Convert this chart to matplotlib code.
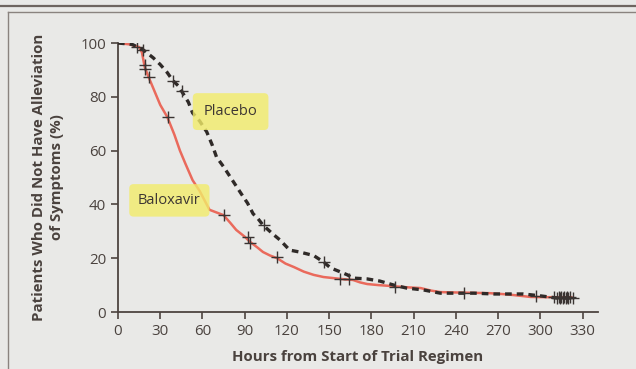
import matplotlib
matplotlib.use("Agg")
import matplotlib.pyplot as plt
from matplotlib.lines import Line2D

# ---- data ----
balox_t = [0, 8, 15, 17, 19, 22, 26, 30, 35, 40, 44, 48, 53, 58, 62, 65, 70, 75, 80, 84,
           90, 94, 99, 103, 108, 113, 119, 125, 132, 139, 146, 153, 160, 167, 172, 177,
           185, 193, 205, 215, 222, 229, 245, 264, 275, 281, 293, 305, 322]
balox_s = [100, 99.5, 98.5, 96.5, 91, 87, 82, 77, 72.5, 66, 60, 55, 49, 45, 41, 38, 37, 36,
           33, 30.5, 28, 26, 24, 22.3, 21, 20, 18, 16.7, 15, 13.8, 13, 12.6, 12.2, 11.9, 11,
           10.4, 10, 9.7, 9.2, 8.9, 8, 7.4, 7.2, 7, 6.6, 6.3, 5.6, 5.5, 5.5]

plac_t = [0, 10, 18, 25, 30, 35, 39, 43, 46, 50, 53, 58, 63, 67, 70, 75, 80, 85, 89, 92,
          96, 99, 103, 110, 115, 122, 129, 139, 146, 151, 158, 163, 167, 177, 186, 196,
          205, 217, 229, 253, 267, 288, 300, 312, 322]
plac_s = [100, 99.5, 97.4, 94.5, 92, 89, 86, 84, 81.4, 78, 74, 71, 67, 62, 57.6, 54, 50,
          46, 42.8, 40.5, 36.5, 35, 32.3, 29, 26.8, 23, 22.3, 21, 18.6, 16.4, 14.9, 13.8,
          12.6, 12.3, 11.5, 10, 8.9, 8.2, 7, 7, 6.7, 6.7, 6, 5.2, 5.2]

balox_cens_t = [13.5, 19, 19, 22, 35.5, 75, 92, 94, 113, 158, 164, 197,
                310, 313, 315, 317, 319, 321]
balox_cens_s = [98.5, 92, 90.5, 87.3, 72.5, 36, 28, 25.6, 20.5, 12.2, 12.2, 9.3,
                5.5, 5.5, 5.5, 5.5, 5.5, 5.5]
plac_cens_t = [18, 39, 45.5, 104, 146, 246, 297, 312, 314, 316, 318, 320, 323]
plac_cens_s = [97.4, 86, 82, 32.3, 18.6, 7, 6, 5.2, 5.2, 5.2, 5.2, 5.2, 5.2]

x_ticks = [0, 30, 60, 90, 120, 150, 180, 210, 240, 270, 300, 330]
y_ticks = [0, 20, 40, 60, 80, 100]

x_label = "Hours from Start of Trial Regimen"
y_label = "Patients Who Did Not Have Alleviation\nof Symptoms (%)"

# ---- styling ----
plt.rcParams['font.family'] = ['Open Sans', 'DejaVu Sans']
bg = "#e9e9e7"
axc = "#4d4440"
txt = "#4a423e"

W, H = 636, 369
fig = plt.figure(figsize=(W / 100, H / 100), dpi=100, facecolor=bg)

# frame lines
fig.add_artist(Line2D([0, 1], [1 - 5.5 / H, 1 - 5.5 / H], color="#6e6560", lw=1.6,
                      transform=fig.transFigure))
fig.add_artist(Line2D([8 / W, 1], [1 - 11.5 / H, 1 - 11.5 / H], color="#8a837f", lw=1.0,
                      transform=fig.transFigure))
fig.add_artist(Line2D([8 / W, 8 / W], [0, 1 - 11.5 / H], color="#8a837f", lw=1.0,
                      transform=fig.transFigure))

left, right = 118, 598
bottom, top = 312, 43
ax = fig.add_axes([left / W, 1 - bottom / H, (right - left) / W, (bottom - top) / H])
ax.set_facecolor(bg)
ax.set_xlim(0, 341)
ax.set_ylim(0, 100)

ax.plot(plac_t, plac_s, color="#2f2a28", lw=2.4,
        linestyle=(0, (2.0, 1.5)), zorder=3, solid_capstyle='butt', dash_capstyle='butt')
ax.plot(balox_t, balox_s, color="#ea6a5c", lw=1.8, zorder=2)
ax.plot(balox_cens_t, balox_cens_s, ls='none', marker='+', ms=8, mew=1.0,
        color="#3a3432", zorder=4)
ax.plot(plac_cens_t, plac_cens_s, ls='none', marker='+', ms=8, mew=1.0,
        color="#3a3432", zorder=4)

for s in ['top', 'right']:
    ax.spines[s].set_visible(False)
for s in ['left', 'bottom']:
    ax.spines[s].set_color(axc)
    ax.spines[s].set_linewidth(1.3)

ax.set_xticks(x_ticks)
ax.set_yticks(y_ticks)
ax.tick_params(axis='both', colors=axc, labelcolor=txt, labelsize=10.8,
               length=5, width=1.2, direction='out')

ax.set_xlabel(x_label, fontsize=10.8, fontweight='bold', color=txt, labelpad=8)
ax.set_ylabel(y_label, fontsize=10.8, fontweight='bold', color=txt, labelpad=12,
              linespacing=1.3)

# highlighted labels
hl = "#f2ec6a"
ax.text(80, 74.5, "Placebo", fontsize=10.5, color="#3d3633", ha='center', va='center',
        zorder=6,
        bbox=dict(boxstyle="round,pad=0.75,rounding_size=0.3", fc=hl, ec='none', alpha=0.8))
ax.text(36.5, 41.5, "Baloxavir", fontsize=10.5, color="#3d3633", ha='center', va='center',
        zorder=6,
        bbox=dict(boxstyle="round,pad=0.6,rounding_size=0.3", fc=hl, ec='none', alpha=0.8))

fig.savefig("out.png", dpi=100, facecolor=bg)
